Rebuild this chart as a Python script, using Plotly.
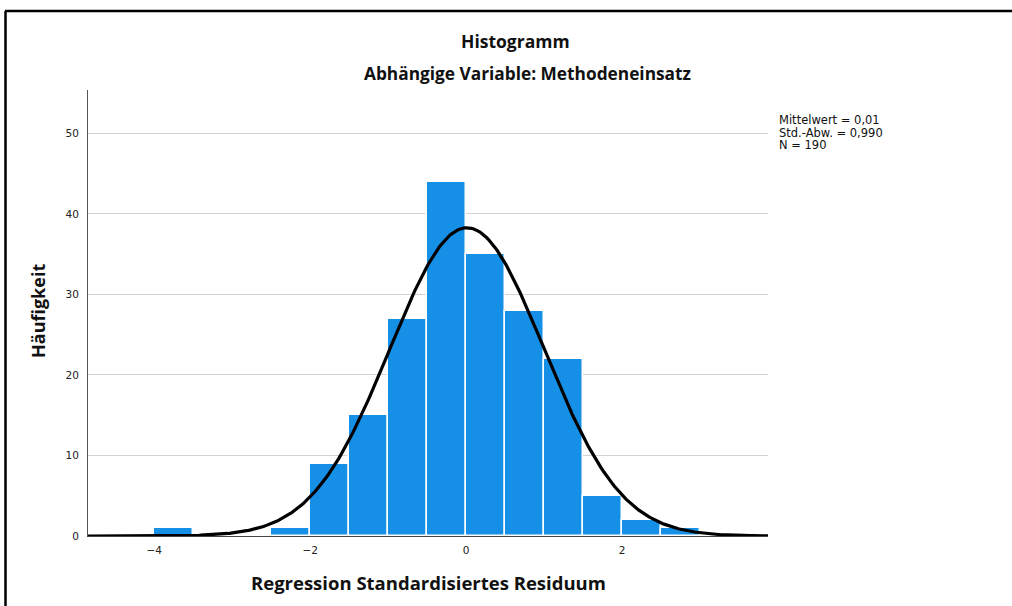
import numpy as np
import plotly.graph_objects as go

# Data
bin_left = [-4.0, -3.5, -3.0, -2.5, -2.0, -1.5, -1.0, -0.5, 0.0, 0.5, 1.0, 1.5, 2.0, 2.5]
counts   = [1, 0, 0, 1, 9, 15, 27, 44, 35, 28, 22, 5, 2, 1]
bin_width = 0.5
mean_val = 0.01
sd_val = 0.990
n_val = 190
stats_lines = ["Mittelwert = 0,01", "Std.-Abw. = 0,990", "N = 190"]
x_ticks = [-4, -2, 0, 2]
y_ticks = [0, 10, 20, 30, 40, 50]

W, H = 1012, 606
L, R, T, B = 88, 768, 90, 536  # plot area in pixels
x_range = [-4.85, 3.87]
y_range = [0, 55.4]

def px(xp):
    return (xp - L) / (R - L)

def py(yp):
    return (B - yp) / (B - T)

centers = [b + bin_width / 2 for b in bin_left]

# Fitted normal curve (from the stated statistics)
xc = np.linspace(x_range[0], x_range[1], 400)
yc = n_val * bin_width / (sd_val * np.sqrt(2 * np.pi)) * np.exp(-0.5 * ((xc - mean_val) / sd_val) ** 2)

TITLE_FONT = "Open Sans, sans-serif"
SMALL_FONT = "DejaVu Sans, sans-serif"

fig = go.Figure()
fig.add_trace(go.Bar(
    x=centers, y=counts, width=bin_width,
    marker=dict(color="#1590E6", line=dict(color="white", width=1.5)),
    hoverinfo="x+y",
))
fig.add_trace(go.Scatter(
    x=xc, y=yc, mode="lines",
    line=dict(color="black", width=3.2),
    hoverinfo="skip",
))

fig.update_layout(
    width=W, height=H,
    margin=dict(l=L, r=W - R, t=T, b=H - B, pad=0),
    paper_bgcolor="white", plot_bgcolor="white",
    showlegend=False,
    bargap=0,
    font=dict(family=SMALL_FONT, color="#222"),
)
fig.update_xaxes(
    range=x_range, tickvals=x_ticks, ticktext=["\u22124", "\u22122", "0", "2"],
    showgrid=False, zeroline=False, showline=True, linecolor="#444", linewidth=1.2,
    ticks="", tickfont=dict(size=10.5, color="#222", family=SMALL_FONT), ticklabelstandoff=4,
)
fig.update_yaxes(
    range=y_range, tickvals=y_ticks,
    showgrid=True, gridcolor="#d3d3d3", gridwidth=1,
    zeroline=False, showline=True, linecolor="#555", linewidth=1,
    ticks="", tickfont=dict(size=10.5, color="#222", family=SMALL_FONT), ticklabelstandoff=6,
)

ann = []
ann.append(dict(x=px(515), y=py(41), xref="paper", yref="paper", text="<b>Histogramm</b>",
                showarrow=False, font=dict(size=17.5, family=TITLE_FONT, color="#111"),
                xanchor="center", yanchor="middle"))
ann.append(dict(x=px(527.5), y=py(74), xref="paper", yref="paper",
                text="<b>Abhängige Variable: Methodeneinsatz</b>",
                showarrow=False, font=dict(size=17.3, family=TITLE_FONT, color="#111"),
                xanchor="center", yanchor="middle"))
ann.append(dict(x=px(428), y=py(582), xref="paper", yref="paper",
                text="<b>Regression Standardisiertes Residuum</b>",
                showarrow=False, font=dict(size=18.5, family=TITLE_FONT, color="#111"),
                xanchor="center", yanchor="middle"))
ann.append(dict(x=px(38), y=py(311), xref="paper", yref="paper", text="<b>Häufigkeit</b>",
                textangle=-90, showarrow=False, font=dict(size=18, family=TITLE_FONT, color="#111"),
                xanchor="center", yanchor="middle"))
for i, line in enumerate(stats_lines):
    ann.append(dict(x=px(777), y=py(120 + 12.5 * i), xref="paper", yref="paper", text=line,
                    showarrow=False, font=dict(size=11.5, family=SMALL_FONT, color="#111"),
                    xanchor="left", yanchor="middle"))
fig.update_layout(annotations=ann)

# outer frame lines (top and left) of the original image
fig.add_shape(type="line", xref="paper", yref="paper", x0=px(5), x1=px(1012), y0=py(11), y1=py(11),
              line=dict(color="black", width=2.5))
fig.add_shape(type="line", xref="paper", yref="paper", x0=px(5.5), x1=px(5.5), y0=py(11), y1=py(606),
              line=dict(color="black", width=2.5))

fig.write_html("out.html")
